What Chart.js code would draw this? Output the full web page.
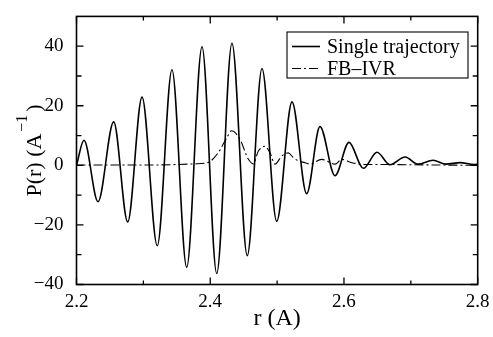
<!DOCTYPE html>
<html>
<head>
<meta charset="utf-8">
<script src="https://cdn.jsdelivr.net/npm/chart.js@4.4.1/dist/chart.umd.min.js"></script>
<style>
  html, body { margin: 0; padding: 0; background: #fff; }
  canvas { display: block; }
</style>
</head>
<body>
<canvas id="c" width="493" height="337"></canvas>
<script>
// ---- data ----
const singleR = [2.2, 2.2112, 2.2322, 2.2556, 2.2766, 2.2980, 2.3208, 2.3428, 2.3648, 2.3877, 2.4097, 2.4325, 2.4554, 2.4774, 2.4994, 2.5223, 2.5442, 2.5641, 2.5866, 2.6075, 2.6289, 2.6494, 2.6688, 2.6913, 2.7107, 2.7332, 2.7526, 2.7736, 2.7945, 2.8];
const singleP = [0, 8.4, -12.2, 14.6, -19.0, 22.9, -27.0, 32.1, -34.2, 39.8, -36.3, 41.0, -30.3, 32.5, -18.8, 21.3, -9.5, 13.0, -3.5, 7.7, -1.0, 4.4, 0.2, 2.8, 0.4, 1.7, 0.4, 0.9, 0.3, 0.4];

const fbR = [2.2, 2.30, 2.3772, 2.3971, 2.4121, 2.4246, 2.4320, 2.4445, 2.4569, 2.4644, 2.4719, 2.4819, 2.4894, 2.4968, 2.5069, 2.5167, 2.5242, 2.5317, 2.5417, 2.5492, 2.5667, 2.5866, 2.5966, 2.6120, 2.6314, 2.65, 2.70, 2.75, 2.80];
const fbP = [0.1, 0.1, 0.5, 1.0, 4.3, 9.2, 11.6, 8.7, 2.1, 0.5, 4.8, 6.4, 4.2, 0.4, 3.1, 4.2, 2.6, 1.5, 0.9, 0.4, 2.0, 0.4, 2.0, 0.9, 0.3, 0.3, 0.2, 0.1, 0.0];

const seriesNames = ['Single trajectory', 'FB\u2013IVR'];
const xTickValues = [2.2, 2.4, 2.6, 2.8];
const xTickLabels = ['2.2', '2.4', '2.6', '2.8'];
const yTickValues = [-40, -20, 0, 20, 40];
const yTickLabels = ['\u221240', '\u221220', '0', '20', '40'];
const xTitle = 'r (A)';
const yTitleMain = 'P(r) (A';
const yTitleSup = '\u22121';
const yTitleEnd = ')';

const FONT = '"Liberation Serif", "Times New Roman", serif';

function labelFor(values, labels, v) {
  for (let i = 0; i < values.length; i++) {
    if (Math.abs(values[i] - v) < 1e-6) return labels[i];
  }
  return '';
}

const framePlugin = {
  id: 'frame',
  beforeDraw(chart) {
    const ctx = chart.ctx;
    ctx.save();
    ctx.fillStyle = '#fff';
    ctx.fillRect(0, 0, chart.width, chart.height);
    ctx.restore();
  },
  afterDraw(chart) {
    const ctx = chart.ctx;
    const a = chart.chartArea;
    const xs = chart.scales.x, ys = chart.scales.y;
    ctx.save();
    ctx.strokeStyle = '#000';
    ctx.lineWidth = 1.6;
    ctx.strokeRect(a.left, a.top, a.right - a.left, a.bottom - a.top);
    ctx.lineWidth = 1.3;
    ctx.beginPath();
    xs.ticks.forEach(t => {
      const px = xs.getPixelForValue(t.value);
      const major = labelFor(xTickValues, xTickLabels, t.value) !== '';
      const len = major ? 7 : 4;
      ctx.moveTo(px, a.bottom); ctx.lineTo(px, a.bottom - len);
      ctx.moveTo(px, a.top); ctx.lineTo(px, a.top + len);
    });
    ys.ticks.forEach(t => {
      if (t.value >= ys.max - 1e-6) return;
      const py = ys.getPixelForValue(t.value);
      const major = labelFor(yTickValues, yTickLabels, t.value) !== '';
      const len = major ? 7 : 5;
      ctx.moveTo(a.left, py); ctx.lineTo(a.left + len, py);
      ctx.moveTo(a.right, py); ctx.lineTo(a.right - len, py);
    });
    ctx.stroke();

    // Y axis title with superscript
    const cy = (a.top + a.bottom) / 2;
    ctx.translate(41, cy);
    ctx.rotate(-Math.PI / 2);
    ctx.fillStyle = '#000';
    ctx.textAlign = 'left';
    ctx.textBaseline = 'alphabetic';
    const mainFont = '22px ' + FONT, supFont = '16px ' + FONT;
    ctx.font = mainFont;
    const wMain = ctx.measureText(yTitleMain).width;
    const wEnd = ctx.measureText(yTitleEnd).width;
    ctx.font = supFont;
    const wSup = ctx.measureText(yTitleSup).width;
    const gap1 = 2, gap2 = 3;
    const total = wMain + gap1 + wSup + gap2 + wEnd;
    let x0 = -total / 2;
    ctx.font = mainFont;
    ctx.fillText(yTitleMain, x0, 0);
    ctx.font = supFont;
    ctx.fillText(yTitleSup, x0 + wMain + gap1, -14);
    ctx.font = mainFont;
    ctx.fillText(yTitleEnd, x0 + wMain + gap1 + wSup + gap2, 0);
    ctx.restore();

    // Legend
    ctx.save();
    const lx = 287, ly = 32, lw = 181, lh = 46;
    ctx.fillStyle = '#fff';
    ctx.fillRect(lx, ly, lw, lh);
    ctx.strokeStyle = '#000';
    ctx.lineWidth = 1.1;
    ctx.strokeRect(lx, ly, lw, lh);
    const dsets = chart.data.datasets;
    const rows = [46.5, 68.5];
    rows.forEach((ry, i) => {
      const ds = dsets[i];
      ctx.beginPath();
      ctx.setLineDash(ds.borderDash || []);
      ctx.lineWidth = ds.borderWidth;
      ctx.moveTo(292, ry); ctx.lineTo(320, ry);
      ctx.stroke();
      ctx.setLineDash([]);
      ctx.fillStyle = '#000';
      ctx.font = '20px ' + FONT;
      ctx.textBaseline = 'middle';
      ctx.textAlign = 'left';
      ctx.fillText(ds.label, 327, ry + 1);
    });
    ctx.restore();
  }
};

new Chart(document.getElementById('c'), {
  type: 'line',
  data: {
    datasets: [
      {
        label: seriesNames[0],
        data: singleR.map((r, i) => ({ x: r, y: singleP[i] })),
        borderColor: '#000',
        borderWidth: 1.6,
        pointRadius: 0,
        cubicInterpolationMode: 'monotone',
        fill: false
      },
      {
        label: seriesNames[1],
        data: fbR.map((r, i) => ({ x: r, y: fbP[i] })),
        borderColor: '#000',
        borderWidth: 1.1,
        borderDash: [9, 3, 2, 3],
        pointRadius: 0,
        cubicInterpolationMode: 'monotone',
        fill: false
      }
    ]
  },
  options: {
    responsive: false,
    animation: false,
    devicePixelRatio: 1,
    layout: { padding: { top: 10.7, right: 15.3, left: 0, bottom: 0 } },
    plugins: { legend: { display: false }, tooltip: { enabled: false } },
    scales: {
      x: {
        type: 'linear',
        min: 2.2, max: 2.8,
        grid: { display: false },
        border: { display: false },
        afterFit(s) { s.height = 52.5; },
        ticks: {
          stepSize: 0.1,
          autoSkip: false,
          maxRotation: 0,
          padding: 0,
          color: '#000',
          font: { family: FONT, size: 19, lineHeight: 1 },
          callback: v => labelFor(xTickValues, xTickLabels, v)
        },
        title: {
          display: true,
          text: xTitle,
          color: '#000',
          font: { family: FONT, size: 24, lineHeight: 1.2 },
          padding: { top: 0, bottom: 4 }
        }
      },
      y: {
        min: -40, max: 50,
        grid: { display: false },
        border: { display: false },
        afterFit(s) { s.width = 76.5; },
        ticks: {
          stepSize: 10,
          autoSkip: false,
          padding: 5,
          color: '#000',
          font: { family: FONT, size: 19 },
          callback: v => labelFor(yTickValues, yTickLabels, v)
        }
      }
    }
  },
  plugins: [framePlugin]
});
</script>
</body>
</html>
